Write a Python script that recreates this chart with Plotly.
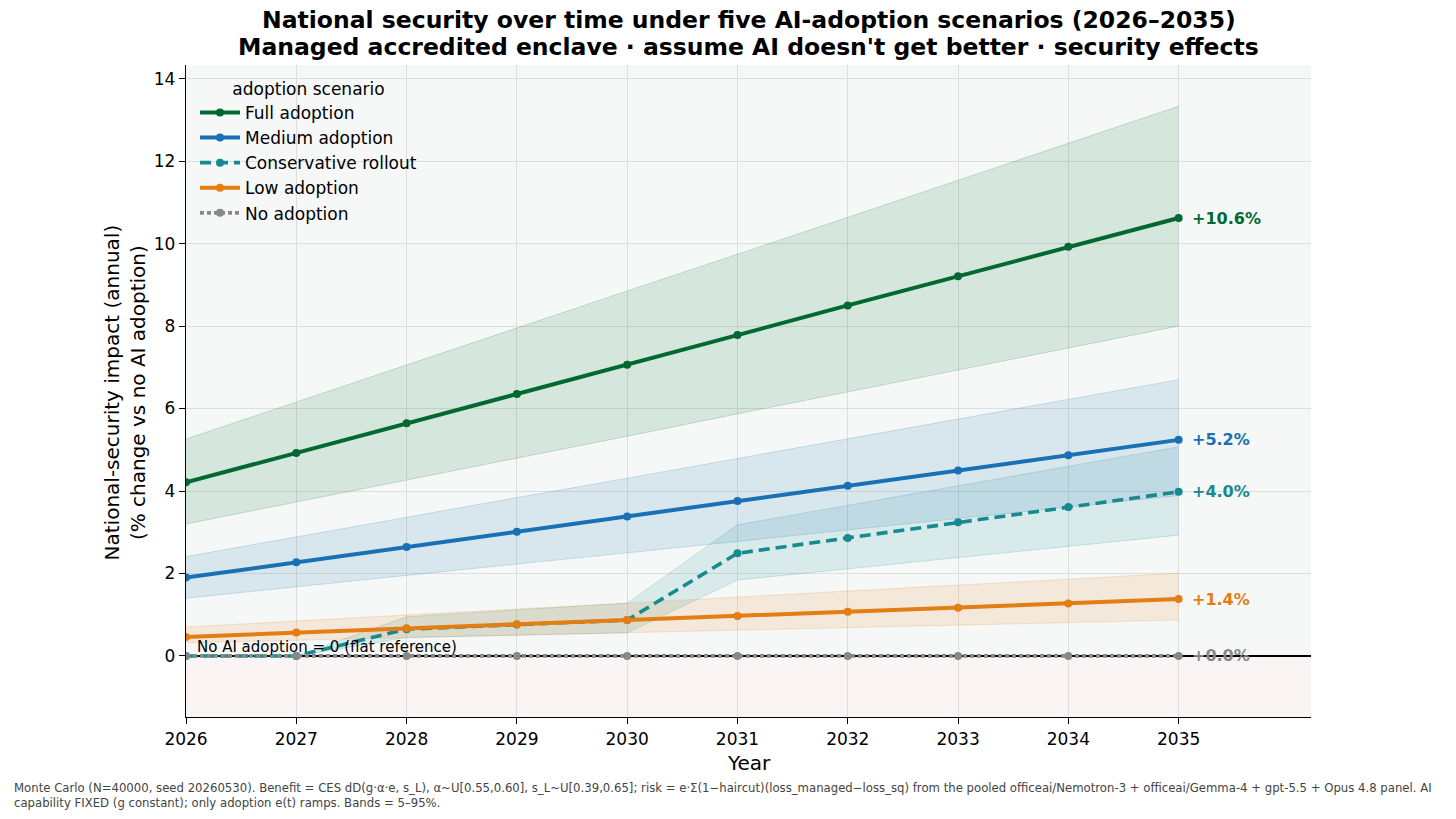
import plotly.graph_objects as go

years = [2026, 2027, 2028, 2029, 2030, 2031, 2032, 2033, 2034, 2035]

full = [4.21, 4.92, 5.64, 6.35, 7.06, 7.78, 8.50, 9.21, 9.92, 10.62]
full_lo = [3.20, 3.73, 4.27, 4.80, 5.33, 5.87, 6.40, 6.93, 7.47, 8.00]
full_hi = [5.26, 6.16, 7.05, 7.95, 8.85, 9.74, 10.64, 11.54, 12.43, 13.33]

medium = [1.90, 2.27, 2.64, 3.01, 3.38, 3.76, 4.13, 4.50, 4.87, 5.24]
medium_lo = [1.40, 1.68, 1.95, 2.23, 2.50, 2.78, 3.06, 3.33, 3.61, 3.89]
medium_hi = [2.41, 2.89, 3.36, 3.84, 4.31, 4.79, 5.27, 5.74, 6.22, 6.70]

conservative = [0.00, 0.00, 0.65, 0.76, 0.87, 2.49, 2.86, 3.24, 3.61, 3.98]
conservative_lo = [0.00, 0.00, 0.45, 0.50, 0.56, 1.84, 2.11, 2.38, 2.66, 2.93]
conservative_hi = [0.00, 0.00, 0.95, 1.12, 1.28, 3.18, 3.65, 4.12, 4.60, 5.07]

low = [0.46, 0.57, 0.67, 0.77, 0.87, 0.97, 1.07, 1.17, 1.27, 1.38]
low_lo = [0.32, 0.38, 0.44, 0.50, 0.56, 0.62, 0.68, 0.75, 0.81, 0.87]
low_hi = [0.70, 0.85, 0.99, 1.14, 1.28, 1.43, 1.57, 1.72, 1.86, 2.01]

none = [0.0, 0.0, 0.0, 0.0, 0.0, 0.0, 0.0, 0.0, 0.0, 0.0]

names = ["Full adoption", "Medium adoption", "Conservative rollout", "Low adoption", "No adoption"]
rgb = [(0, 105, 48), (25, 112, 180), (23, 138, 143), (228, 125, 18), (136, 136, 136)]

series = [full, medium, conservative, low, none]
bands = [(full_lo, full_hi), (medium_lo, medium_hi), (conservative_lo, conservative_hi), (low_lo, low_hi), None]
dashes = ["solid", "solid", "11px,6px", "solid", "4px,3px"]
widths = [4, 4, 3.6, 4, 3.8]

FONT = "DejaVu Sans"


def c(rgbt, a=1.0):
    r, g, b = rgbt
    return f"rgba({r},{g},{b},{a})"


fig = go.Figure()

# bands first
for name, col, band in zip(names, rgb, bands):
    if band is None:
        continue
    lo, hi = band
    fig.add_trace(go.Scatter(x=years, y=hi, mode="lines", line=dict(color=c(col, 0.18), width=1),
                             showlegend=False, hoverinfo="skip"))
    fig.add_trace(go.Scatter(x=years, y=lo, mode="lines", line=dict(color=c(col, 0.18), width=1),
                             fill="tonexty", fillcolor=c(col, 0.13), showlegend=False, hoverinfo="skip"))

for name, col, ys, dash, w in zip(names, rgb, series, dashes, widths):
    fig.add_trace(go.Scatter(x=years, y=ys, mode="lines+markers", name=name,
                             line=dict(color=c(col), width=w, dash=dash),
                             marker=dict(color=c(col), size=8)))

# end labels
for col, ys in zip(rgb, series):
    fig.add_annotation(x=years[-1], y=ys[-1], text=f"<b>{ys[-1]:+.1f}%</b>", showarrow=False,
                       xanchor="left", yanchor="middle", xshift=11,
                       font=dict(family=FONT, size=16, color=c(col)))

fig.add_annotation(x=years[0], y=0, text="No AI adoption = 0 (flat reference)", showarrow=False,
                   xanchor="left", yanchor="bottom", xshift=9, yshift=-2,
                   font=dict(family=FONT, size=15, color="black"))

# below-zero tint
fig.add_shape(type="rect", xref="paper", x0=0, x1=1, yref="y", y0=-1.48, y1=0,
              fillcolor="#faf4f4", line=dict(width=0), layer="below")

# titles
fig.add_annotation(xref="paper", yref="paper", x=0.5, y=1.069, xanchor="center", yanchor="middle",
                   text="<b>National security over time under five AI-adoption scenarios (2026–2035)</b>",
                   showarrow=False, font=dict(family=FONT, size=23.5, color="black"))
fig.add_annotation(xref="paper", yref="paper", x=0.5, y=1.0276, xanchor="center", yanchor="middle",
                   text="<b>Managed accredited enclave · assume AI doesn't get better · security effects</b>",
                   showarrow=False, font=dict(family=FONT, size=23.5, color="black"))

fig.add_annotation(xref="paper", yref="paper", x=0.5, y=-0.0706, xanchor="center", yanchor="middle",
                   text="Year", showarrow=False, font=dict(family=FONT, size=20, color="black"))
fig.add_annotation(xref="paper", yref="paper", x=-0.0538, y=0.4985, xanchor="center", yanchor="middle",
                   text="National-security impact (annual)<br>(% change vs no AI adoption)", textangle=-90,
                   showarrow=False, font=dict(family=FONT, size=20, color="black"))

fig.add_annotation(xref="paper", yref="paper", x=-0.1547, y=-0.095, xanchor="left", yanchor="top", align="left",
                   text="Monte Carlo (N=40000, seed 20260530). Benefit = CES dD(g·α·e, s_L), α~U[0.55,0.60], "
                        "s_L~U[0.39,0.65]; risk = e·Σ(1−haircut)(loss_managed−loss_sq) from the pooled "
                        "officeai/Nemotron-3 + officeai/Gemma-4 + gpt-5.5 + Opus 4.8 panel. AI<br>"
                        "capability FIXED (g constant); only adoption e(t) ramps. Bands = 5–95%.",
                   showarrow=False, font=dict(family=FONT, size=11.7, color="#444444"))

fig.update_layout(
    width=1456, height=819,
    margin=dict(l=186, r=145, t=65, b=102),
    paper_bgcolor="white",
    plot_bgcolor="#f5f8f7",
    font=dict(family=FONT, size=17, color="black"),
    showlegend=True,
    legend=dict(x=0.008, y=0.988, xanchor="left", yanchor="top", bgcolor="rgba(0,0,0,0)",
                traceorder="normal",
                font=dict(family=FONT, size=17, color="black"),
                title=dict(text="adoption scenario", side="top center",
                           font=dict(family=FONT, size=17, color="black")),
                itemwidth=40, tracegroupgap=0),
)

fig.update_xaxes(range=[2026, 2036.2], tickmode="array", tickvals=years, ticktext=[str(y) for y in years],
                 showgrid=True, gridcolor="#dedede", gridwidth=1, zeroline=False,
                 showline=True, linecolor="black", linewidth=1.3, ticks="outside", ticklen=6,
                 tickcolor="black", tickfont=dict(family=FONT, size=17, color="black"))
fig.update_yaxes(range=[-1.48, 14.33], tickmode="array", tickvals=[0, 2, 4, 6, 8, 10, 12, 14],
                 showgrid=True, gridcolor="#dedede", gridwidth=1,
                 zeroline=True, zerolinecolor="black", zerolinewidth=2,
                 showline=True, linecolor="black", linewidth=1.3, ticks="outside", ticklen=6,
                 tickcolor="black", tickfont=dict(family=FONT, size=17, color="black"))

fig.write_html("out.html")
